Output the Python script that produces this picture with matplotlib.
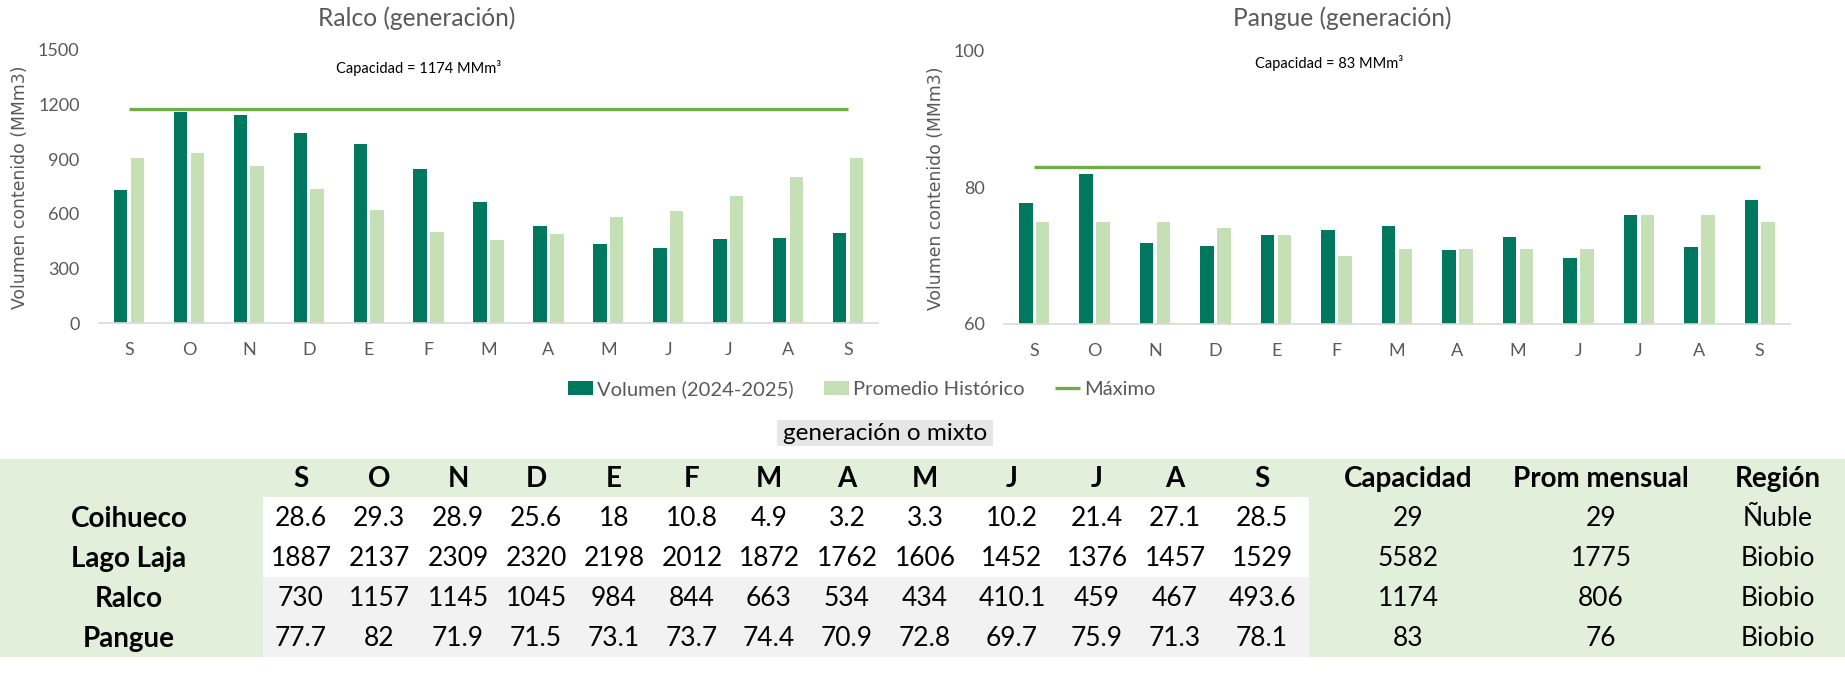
import numpy as np
import matplotlib
matplotlib.use('Agg')
import matplotlib.pyplot as plt
from matplotlib.patches import Rectangle

# ---------------- data ----------------
months = ['S', 'O', 'N', 'D', 'E', 'F', 'M', 'A', 'M', 'J', 'J', 'A', 'S']
ralco_vol = [730, 1157, 1145, 1045, 984, 844, 663, 534, 434, 410.1, 459, 467, 493.6]
ralco_hist = [905, 934, 863, 736, 621, 500, 456, 489, 582, 615, 698, 802, 905]
ralco_max = 1174
pangue_vol = [77.7, 82, 71.9, 71.5, 73.1, 73.7, 74.4, 70.9, 72.8, 69.7, 75.9, 71.3, 78.1]
pangue_hist = [75, 75, 75, 74, 73, 70, 71, 71, 71, 71, 76, 76, 75]
pangue_max = 83

coihueco = [28.6, 29.3, 28.9, 25.6, 18, 10.8, 4.9, 3.2, 3.3, 10.2, 21.4, 27.1, 28.5]
lago_laja = [1887, 2137, 2309, 2320, 2198, 2012, 1872, 1762, 1606, 1452, 1376, 1457, 1529]
table_names = ['Coihueco', 'Lago Laja', 'Ralco', 'Pangue']
capacidad = [29, 5582, 1174, 83]
prom_mensual = [29, 1775, 806, 76]
region = ['Ñuble', 'Biobio', 'Biobio', 'Biobio']
extra_headers = ['Capacidad', 'Prom mensual', 'Región']
series_labels = ['Volumen (2024-2025)', 'Promedio Histórico', 'Máximo']

# ---------------- style ----------------
DARK = '#00775F'
LIGHT = '#C5E0B4'
LINE = '#70AD47'
TXT = '#595959'
TGREEN = '#E2EFDA'
TGRAY = '#F2F2F2'

plt.rcParams['font.family'] = ['Lato', 'DejaVu Sans']

W, H = 1845, 684
fig = plt.figure(figsize=(W / 100, H / 100), dpi=100)

# ---------------- table (pixel-coordinate axes) ----------------
tax = fig.add_axes([0, 0, 1, 1])
tax.set_xlim(0, W)
tax.set_ylim(H, 0)
tax.axis('off')

top, hdr_h, row_h = 459, 38, 40
left_w, data_r = 263, 1309
tab_bottom = top + hdr_h + row_h * 4
tax.add_patch(Rectangle((0, top), W, tab_bottom - top, color=TGREEN, lw=0))
for i in range(4):
    y0 = top + hdr_h + i * row_h
    tax.add_patch(Rectangle((left_w, y0), data_r - left_w, row_h,
                            color='white' if i < 2 else TGRAY, lw=0))

month_x = [301, 379, 458, 536, 614, 692, 769, 847, 925, 1012, 1097, 1175, 1262]
extra_x = [1408, 1601, 1778]
TS = 19
TB = 20
hy = top + hdr_h / 2 + 1
for mx, m in zip(month_x, months):
    tax.text(mx, hy, m, ha='center', va='center', fontsize=TB, fontweight='bold', color='black')
for ex, e in zip(extra_x, extra_headers):
    tax.text(ex, hy, e, ha='center', va='center', fontsize=TB, fontweight='bold', color='black')

rows = [coihueco, lago_laja, ralco_vol, pangue_vol]
for i, (name, vals) in enumerate(zip(table_names, rows)):
    cy = top + hdr_h + i * row_h + row_h / 2 + 2
    tax.text(129, cy, name, ha='center', va='center', fontsize=TB, fontweight='bold', color='black')
    for mx, v in zip(month_x, vals):
        tax.text(mx, cy, f'{v:g}', ha='center', va='center', fontsize=TS, color='black')
    for ex, v in zip(extra_x, [capacidad[i], prom_mensual[i], region[i]]):
        s = f'{v:g}' if not isinstance(v, str) else v
        tax.text(ex, cy, s, ha='center', va='center', fontsize=TS, color='black')

# label box
tax.add_patch(Rectangle((777, 420), 216, 26, color='#E7E6E6', lw=0))
tax.text(885, 434, 'generación o mixto', ha='center', va='center', fontsize=17.5, color='black')


# ---------------- charts ----------------
def draw(ax, vol, hist, cap, ylim, yticks):
    x = np.arange(len(months))
    ax.set_facecolor('none')
    ax.bar(x - 0.14, vol, 0.225, color=DARK, label=series_labels[0], zorder=2)
    ax.bar(x + 0.14, hist, 0.225, color=LIGHT, label=series_labels[1], zorder=2)
    ax.plot(x, [cap] * len(x), color=LINE, lw=2.4, solid_capstyle='butt',
            label=series_labels[2], zorder=3)
    ax.set_xlim(-0.5, len(months) - 0.5)
    ax.set_ylim(*ylim)
    ax.set_yticks(yticks)
    ax.set_xticks(x)
    ax.set_xticklabels(months)
    for s in ['top', 'right', 'left']:
        ax.spines[s].set_visible(False)
    ax.spines['bottom'].set_color('#D9D9D9')
    ax.spines['bottom'].set_linewidth(1.2)
    ax.tick_params(axis='both', length=0, labelsize=13, labelcolor=TXT)
    ax.tick_params(axis='x', pad=14)
    ax.tick_params(axis='y', pad=14)


ax1 = fig.add_axes([99 / W, 1 - 323 / H, 779 / W, 273 / H])
draw(ax1, ralco_vol, ralco_hist, ralco_max, (0, 1500), [0, 300, 600, 900, 1200, 1500])
ax2 = fig.add_axes([1004 / W, 1 - 324 / H, 786 / W, 273 / H])
draw(ax2, pangue_vol, pangue_hist, pangue_max, (60, 100), [60, 80, 100])

fig.text(417 / W, 1 - 18 / H, 'Ralco (generación)', ha='center', va='center', fontsize=17.7, color=TXT)
fig.text(1342 / W, 1 - 18 / H, 'Pangue (generación)', ha='center', va='center', fontsize=17.7, color=TXT)
fig.text(419 / W, 1 - 68 / H, f'Capacidad = {ralco_max} MMm³', ha='center', va='center',
         fontsize=10.5, color='black')
fig.text(1329 / W, 1 - 63 / H, f'Capacidad = {pangue_max} MMm³', ha='center', va='center',
         fontsize=10.5, color='black')
fig.text(20 / W, 1 - 187 / H, 'Volumen contenido (MMm3)', rotation=90, ha='center', va='center',
         fontsize=12.4, color=TXT, family='DejaVu Sans')
fig.text(936 / W, 1 - 188 / H, 'Volumen contenido (MMm3)', rotation=90, ha='center', va='center',
         fontsize=12.4, color=TXT, family='DejaVu Sans')

handles, labels = ax1.get_legend_handles_labels()
order = [labels.index(l) for l in series_labels]
fig.legend([handles[i] for i in order], [labels[i] for i in order], loc='center',
           bbox_to_anchor=(862 / W, 1 - 389 / H), ncol=3, frameon=False, fontsize=14.5,
           handlelength=1.25, handletextpad=0.2, columnspacing=1.5, labelcolor=TXT)

fig.savefig('out.png', dpi=100)
